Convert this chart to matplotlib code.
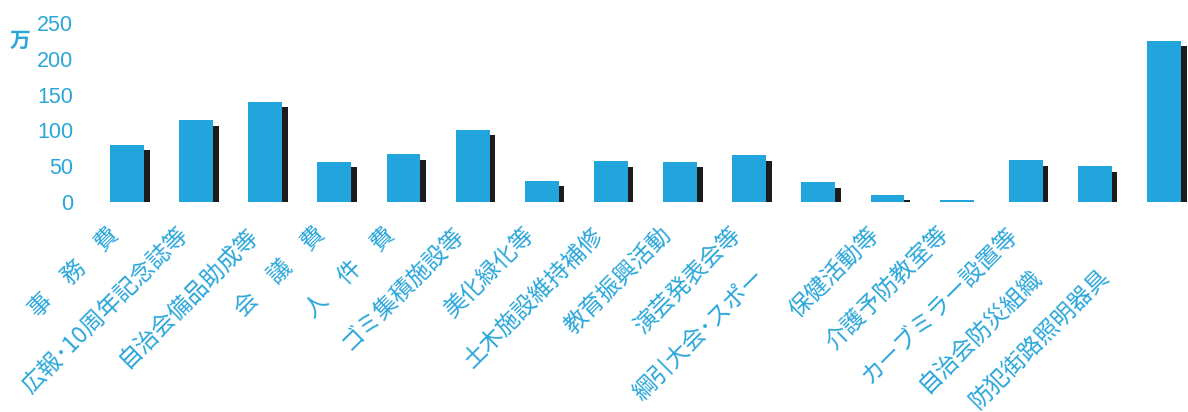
import matplotlib
matplotlib.use("Agg")
import matplotlib.pyplot as plt
import matplotlib.patheffects as pe
import matplotlib.transforms as mtrans
import numpy as np

# ---- data ----
categories = [
    "事　務　費", "広報･10周年記念誌等", "自治会備品助成等", "会　議　費",
    "人　件　費", "ゴミ集積施設等", "美化緑化等", "土木施設維持補修",
    "教育振興活動", "演芸発表会等", "綱引大会･スポー", "保健活動等",
    "介護予防教室等", "カーブミラー設置等", "自治会防災組織", "防犯街路照明器具",
]
values = [80, 114, 140, 56, 67, 101, 30, 57, 56, 65, 28, 10, 3, 58, 50, 225]
yticks = [0, 50, 100, 150, 200, 250]
unit_label = "万"

# ---- layout / style ----
label_drop = [0, 0, 0, 0, 0, 0, 0, 0, 0, 0, 1, 0, 0, 0, 1, 1]  # labels placed lower
BLUE = "#22a5dc"
TEXT_BLUE = "#2aa6da"
SHADOW = "#1c1c1c"

W, H, DPI = 1188, 412, 100
fig = plt.figure(figsize=(W / DPI, H / DPI), dpi=DPI)
ax_left, ax_right = 89, 1188
ax_bottom, ax_top = H - 202, H - 23
ax = fig.add_axes([ax_left / W, ax_bottom / H, (ax_right - ax_left) / W, (ax_top - ax_bottom) / H])

x = np.arange(len(values))
bars = ax.bar(x, values, width=0.49, color=BLUE, zorder=3)
for b in bars:
    b.set_path_effects([
        pe.SimplePatchShadow(offset=(4, -4), shadow_rgbFace=SHADOW, alpha=1.0),
        pe.Normal(),
    ])

ax.set_xlim(-0.55, 15.347)
ax.set_ylim(0, 250)
for s in ax.spines.values():
    s.set_visible(False)
ax.axhline(0, color="#d8d8d8", lw=0.8, ls=(0, (1, 2)), zorder=1)

ax.set_xticks([])
ax.set_yticks(yticks)
ax.set_yticklabels([str(v) for v in yticks], fontfamily="Liberation Sans",
                   fontsize=15.5, color=TEXT_BLUE)
ax.tick_params(axis="y", length=0, pad=11.5)

# category labels, rotated 45 degrees, right end anchored below each bar
base = ax.get_xaxis_transform()
for i, (lab, d) in enumerate(zip(categories, label_drop)):
    dx_px = -11.5 - 46 * d
    dy_px = -29.5 - 42 * d
    tr = base + mtrans.ScaledTranslation(dx_px / DPI, dy_px / DPI, fig.dpi_scale_trans)
    ax.text(i, 0, lab, transform=tr, rotation=45, rotation_mode="anchor",
            ha="right", va="center", fontsize=16.8, color=TEXT_BLUE,
            family=["Noto Sans CJK JP", "DejaVu Sans"], clip_on=False)

fig.text(20 / W, 1 - 40 / H, unit_label, ha="center", va="center", fontsize=15,
         fontweight="bold", color=TEXT_BLUE, family=["Noto Sans CJK JP", "DejaVu Sans"])

fig.savefig("out.png", dpi=DPI)
